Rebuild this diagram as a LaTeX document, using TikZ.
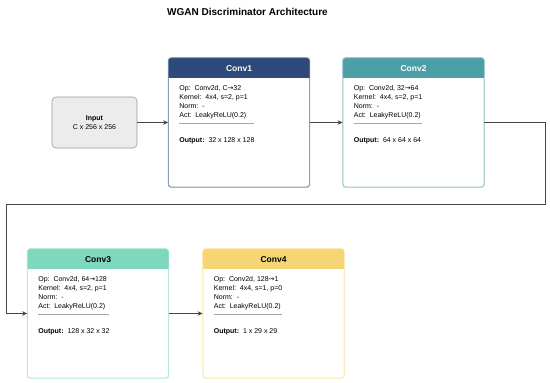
\documentclass[tikz,border=0pt]{standalone}
\usepackage{fontspec}
\setmainfont{Liberation Sans}
\newfontfamily\arrowfont{DejaVu Sans}
\usetikzlibrary{calc,arrows.meta}
\definecolor{headA}{HTML}{2E4A7A}
\definecolor{headB}{HTML}{4B9FA6}
\definecolor{headC}{HTML}{7DD8BE}
\definecolor{headD}{HTML}{F6D674}
\definecolor{inputfill}{HTML}{ECECEC}
\definecolor{linegray}{HTML}{444444}
\newcommand{\toarrow}{{\arrowfont\char"2192}}

\begin{document}
\begin{tikzpicture}[x=1pt, y=-1pt, font=\fontsize{7}{8.7}\selectfont,
    block/.style={draw=#1, rounded corners=3pt, line width=0.7pt,
      minimum width=141pt, minimum height=129pt, inner sep=0pt},
    conn/.style={draw=linegray, line width=0.9pt, -{Stealth[length=5pt, width=4.5pt]}}]
    \useasboundingbox (0,0) rectangle (550,383);
    % title
    \node[font=\bfseries\fontsize{10}{12}\selectfont] (title) at (247.5,12) {WGAN Discriminator Architecture};
    % input
    \node[draw=gray!80, fill=inputfill, rounded corners=4pt, line width=0.6pt,
      minimum width=85pt, minimum height=51pt, align=center] (input) at (94.5,122.5)
      {\textbf{Input}\\C x 256 x 256};
    % conv blocks: name / centre / header colour / title colour / title / op / kernel / output / rule length
    \foreach \nm/\cx/\cy/\hc/\tc/\ttl/\op/\ker/\out/\sl in {
        conv1/239/122.5/headA/white/Conv1/{C\toarrow 32}/{s=2, p=1}/{32 x 128 x 128}/75,
        conv2/413.5/122.5/headB/white/Conv2/{32\toarrow 64}/{s=2, p=1}/{64 x 64 x 64}/68,
        conv3/98/313.5/headC/black/Conv3/{64\toarrow 128}/{s=2, p=1}/{128 x 32 x 32}/71,
        conv4/273.5/313.5/headD/black/Conv4/{128\toarrow 1}/{s=1, p=0}/{1 x 29 x 29}/68}{
      \node[block=\hc!55] (\nm) at (\cx,\cy) {};
      % header band
      \fill[\hc, rounded corners=3pt] (\nm.north west) rectangle ($(\nm.north east)+(0,20)$);
      \fill[\hc] ($(\nm.north west)+(0,10)$) rectangle ($(\nm.north east)+(0,20)$);
      \draw[\hc!55, line width=0.7pt, rounded corners=3pt] (\nm.north west) rectangle (\nm.south east);
      \node[font=\bfseries\fontsize{8.5}{10}\selectfont, text=\tc] at ($(\nm.north)+(0,10.5)$) {\ttl};
      % details
      \node[anchor=north west, align=left, inner sep=0pt] at ($(\nm.north west)+(11,28)$)
        {Op:\ \ Conv2d, \op\\Kernel:\ \ 4x4, \ker\\Norm:\ \ -\\Act:\ \ LeakyReLU(0.2)};
      \draw[gray!70, line width=0.8pt] ($(\nm.north west)+(11,65.5)$) -- ++(\sl,0);
      \node[anchor=west, inner sep=0pt] at ($(\nm.north west)+(11,83)$) {\textbf{Output:}\ \ \out};
    }
    % connectors
    \coordinate (turnR) at (545,204);
    \coordinate (turnL) at (6,204);
    \draw[conn] (input.east) -- (conv1.west);
    \draw[conn] (conv1.east) -- (conv2.west);
    \draw[conn] (conv2.east) -| (turnR) -- (turnL) |- (conv3.west);
    \draw[conn] (conv3.east) -- (conv4.west);
\end{tikzpicture}
\end{document}
